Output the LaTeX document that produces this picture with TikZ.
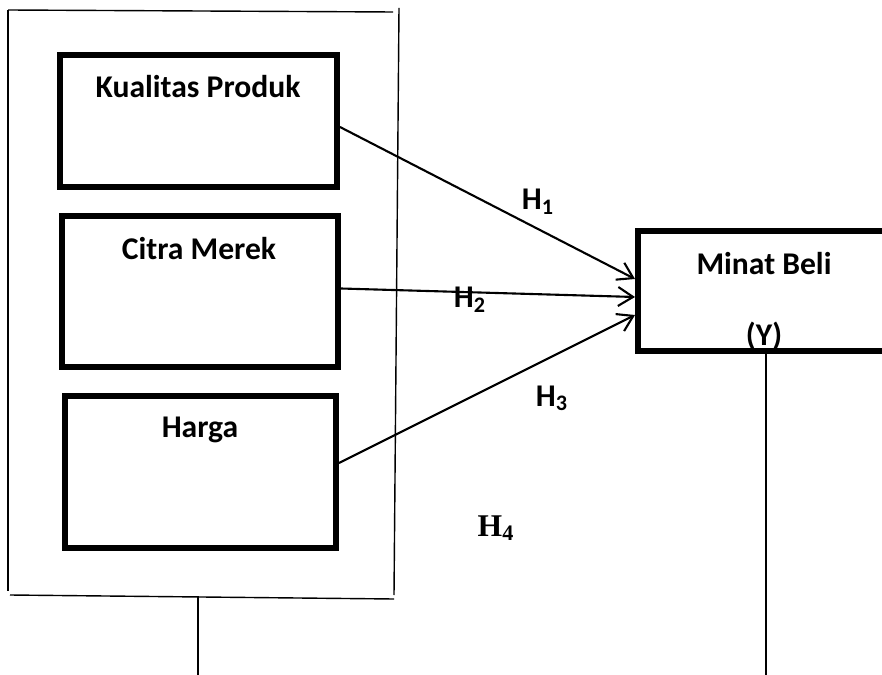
\documentclass[tikz,border=0pt]{standalone}
\usepackage{fontspec}
\setmainfont{Carlito}
\newfontfamily\timesfont{Liberation Serif}
\usepackage{tikz}
\usetikzlibrary{positioning,arrows.meta,calc}
\tikzstyle{var}=[draw, line width=0.12cm, inner sep=0pt]
\tikzstyle{ttl}=[anchor=base, inner sep=0pt, font=\fontsize{18}{21}\selectfont\bfseries]
\tikzstyle{hyp}=[anchor=base, inner sep=0pt, font=\fontsize{18}{21}\selectfont\bfseries]
\tikzstyle{lnk}=[->, line width=1.2pt]
\tikzstyle{frm}=[line width=0.8pt]

\begin{document}
\begin{tikzpicture}[x=0.02cm,y=-0.02cm,>={Straight Barb[length=0.3cm,width=0.38cm]}]
\path[use as bounding box, clip] (0,0) rectangle (882,675);

% independent variables
\node[var, minimum width=5.54cm, minimum height=2.64cm] at (198.5,121) (kp) {};
\node[var, minimum width=5.52cm, minimum height=3.02cm] at (200,291.5) (cm) {};
\node[var, minimum width=5.42cm, minimum height=3.04cm] at (200.5,472) (hrg) {};
\node[ttl] at (198,98) (kpt) {Kualitas Produk};
\node[ttl] at (199,260) (cmt) {Citra Merek};
\node[ttl] at (200,437) (hrgt) {Harga};

% dependent variable
\node[var, minimum width=5.04cm, minimum height=2.4cm] at (764,291) (mb) {};
\node[ttl] at (764,275) (mbt) {Minat Beli};
\node[ttl] at (764,346) (mby) {(Y)};

% frame round X1..X3
\coordinate (f1) at (8,10);
\coordinate (f2) at (8,591);
\coordinate (f3) at (393,12);
\coordinate (f4) at (399,8);
\coordinate (f5) at (394,595);
\coordinate (f6) at (10,595);
\coordinate (f7) at (394,599);
\draw[frm] (f1) -- (f2);
\draw[frm] (f1) -- (f3);
\draw[frm] (f4) -- (f5);
\draw[frm] (f6) -- (f7);
\coordinate (s1) at (198,596);
\coordinate (s2) at (198,675);
\draw[frm] (s1) -- (s2);
\coordinate (s3) at (766,675);
\draw[frm] (mb.south -| s3) -- (s3);

% hypotheses
\draw[lnk] ($(kp.east)+(0,6)$) -- ($(mb.west)+(0,-12)$);
\draw[lnk] ($(cm.east)+(0,-3)$) -- ($(mb.west)+(0,6)$);
\draw[lnk] ($(hrg.east)+(0,-9)$) -- ($(mb.west)+(0,24)$);
\node[hyp] at (538,210) (h1) {H\textsubscript{1}};
\node[hyp] at (470,308) (h2) {H\textsubscript{2}};
\node[hyp] at (552,406) (h3) {H\textsubscript{3}};
\node[hyp, font=\fontsize{18}{21}\selectfont\timesfont\bfseries] at (496,536) (h4) {H\textsubscript{4}};
\end{tikzpicture}
\end{document}
